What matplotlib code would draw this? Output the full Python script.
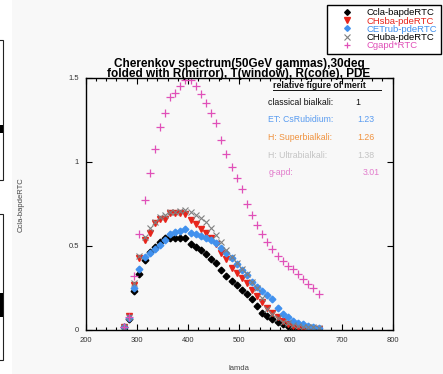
import numpy as np
import matplotlib
matplotlib.use('Agg')
import matplotlib.pyplot as plt
from matplotlib.patches import Rectangle
from matplotlib.ticker import MultipleLocator

plt.rcParams['font.family'] = ['Liberation Sans', 'DejaVu Sans']

W, H = 443, 374

# wavelength, nm
lamda = [275, 285, 295, 305, 315, 325, 335, 345, 355, 365, 375, 385, 395,
         405, 415, 425, 435, 445, 455, 465, 475, 485, 495, 505, 515, 525,
         535, 545, 555, 565, 575, 585, 595, 605, 615, 625, 635, 645, 655]

ccla = [0.02, 0.065, 0.234, 0.335, 0.418, 0.466, 0.496, 0.526, 0.545, 0.55,
        0.55, 0.55, 0.545, 0.512, 0.492, 0.474, 0.452, 0.425, 0.397, 0.358,
        0.319, 0.292, 0.266, 0.237, 0.213, 0.186, 0.142, 0.103, 0.081, 0.063,
        0.05, 0.036, 0.026, 0.017, 0.011, 0.008, 0.005, 0.003, 0.002]
chsba = [0.02, 0.083, 0.27, 0.427, 0.536, 0.58, 0.635, 0.66, 0.66, 0.695,
         0.695, 0.695, 0.69, 0.655, 0.63, 0.603, 0.578, 0.55, 0.51, 0.456,
         0.42, 0.367, 0.337, 0.307, 0.278, 0.238, 0.202, 0.169, 0.133, 0.103,
         0.079, 0.055, 0.036, 0.026, 0.016, 0.01, 0.008, 0.005, 0.003]
cetrub = [0.02, 0.07, 0.25, 0.363, 0.437, 0.456, 0.48, 0.505, 0.535, 0.57,
          0.585, 0.592, 0.60, 0.58, 0.572, 0.562, 0.548, 0.535, 0.518, 0.486,
          0.456, 0.427, 0.395, 0.358, 0.325, 0.288, 0.256, 0.231, 0.206, 0.182,
          0.132, 0.095, 0.075, 0.055, 0.044, 0.034, 0.026, 0.02, 0.014]
chuba = [0.02, 0.075, 0.278, 0.442, 0.556, 0.605, 0.64, 0.67, 0.685, 0.70,
         0.705, 0.71, 0.715, 0.705, 0.685, 0.665, 0.64, 0.605, 0.565, 0.526,
         0.476, 0.433, 0.40, 0.363, 0.333, 0.288, 0.248, 0.193, 0.126, 0.095,
         0.07, 0.05, 0.04, 0.03, 0.025, 0.02, 0.018, 0.015, 0.014]
cgapd = [0.02, 0.08, 0.32, 0.573, 0.775, 0.936, 1.076, 1.21, 1.29, 1.385,
         1.41, 1.454, 1.49, 1.49, 1.45, 1.405, 1.35, 1.29, 1.23, 1.13,
         1.05, 0.97, 0.905, 0.84, 0.752, 0.685, 0.625, 0.57, 0.526, 0.482,
         0.44, 0.413, 0.383, 0.361, 0.331, 0.302, 0.272, 0.248, 0.214]

names = ['Ccla-bapdeRTC', 'CHsba-pdeRTC', 'CETrub-pdeRTC', 'CHuba-pdeRTC', 'Cgapd*RTC']

merit_names = ['classical bialkali:', 'ET: CsRubidium:', 'H: Superbialkali:',
               'H: Ultrabialkali:', 'g-apd:']
merit_vals = ['1', '1.23', '1.26', '1.38', '3.01']

cols = {}
cols['black'] = '#000000'
cols['red'] = '#e8251c'
cols['blue'] = '#4191ee'
cols['gray'] = '#808080'
cols['pink'] = '#e050b8'
text_cols = ['#111111', '#5a9cf0', '#f0923e', '#c4c4c4', '#e27ccc']
legend_text_cols = ['#000000', '#e8251c', '#4191ee', '#000000', '#e050b8']


def fx(px):
    return px / W


def fy(py):
    return 1 - py / H


fig = plt.figure(figsize=(W / 100, H / 100), dpi=100, facecolor='#f8f8f8')

# leftover strip of another window on the left edge
fig.add_artist(Rectangle((0, 0), fx(12), 1, transform=fig.transFigure,
                         facecolor='white', edgecolor='none'))
for y0, y1, b0, b1 in [(40, 180, 125, 133), (214, 360, 293, 317)]:
    fig.add_artist(Rectangle((-0.01, fy(y1)), fx(3) + 0.01, fy(y0) - fy(y1),
                             transform=fig.transFigure, facecolor='white',
                             edgecolor='#222222', lw=0.8))
    fig.add_artist(Rectangle((0, fy(b1)), fx(2.5), fy(b0) - fy(b1),
                             transform=fig.transFigure, facecolor='black',
                             edgecolor='none'))

ax = fig.add_axes([fx(85.7), fy(330), fx(392.7) - fx(85.7), fy(78) - fy(330)])
ax.set_facecolor('none')

ax.plot(lamda, ccla, ls='none', marker='D', ms=3.4, color=cols['black'], label=names[0])
ax.plot(lamda, chsba, ls='none', marker='v', ms=4.8, color=cols['red'], label=names[1])
ax.plot(lamda, cetrub, ls='none', marker='D', ms=3.4, color=cols['blue'], label=names[2])
ax.plot(lamda, chuba, ls='none', marker='x', ms=4.5, mew=0.8, color=cols['gray'], label=names[3])
ax.plot(lamda, cgapd, ls='none', marker='+', ms=5.2, mew=0.9, color=cols['pink'], label=names[4])

ax.set_xlim(200, 800)
ax.set_ylim(0, 1.5)
ax.xaxis.set_major_locator(MultipleLocator(100))
ax.xaxis.set_minor_locator(MultipleLocator(20))
ax.set_yticks([0, 0.5, 1, 1.5])
ax.set_yticklabels(['0', '0.5', '1', '1.5'])
ax.tick_params(which='both', direction='in', top=True, right=True,
               labelsize=5.5, labelcolor='#333333', width=0.8)
ax.tick_params(which='major', length=4.5)
ax.tick_params(which='minor', length=2.5)
ax.tick_params(axis='x', pad=5)
ax.tick_params(axis='y', pad=5)
for s in ax.spines.values():
    s.set_linewidth(1.0)

# two-line bold title
fig.text(fx(239), fy(66.5), 'Cherenkov spectrum(50GeV gammas),30deg',
         fontsize=8.5, fontweight='bold', ha='center', va='baseline')
fig.text(fx(239), fy(77), 'folded with R(mirror), T(window), R(cone), PDE',
         fontsize=8.5, fontweight='bold', ha='center', va='baseline')

fig.text(fx(239), fy(369), 'lamda', fontsize=5.5, color='#444444',
         ha='center', va='center')
fig.text(fx(21.5), fy(205), 'Ccla-bapdeRTC', fontsize=5.5, color='#444444',
         rotation=90, ha='center', va='center')

# figure of merit box
fig.text(fx(273), fy(87.5), 'relative figure of merit', fontsize=6.3,
         fontweight='bold', color='#111111', ha='left', va='baseline')
fig.add_artist(plt.Line2D([fx(273), fx(381)], [fy(89.5), fy(89.5)],
                          transform=fig.transFigure, color='#111111', lw=0.7))
merit_y = [102.5, 119.5, 137, 155, 172.5]
merit_vx = [355, 357.5, 357.5, 357.5, 363]
for name, val, c, yy, vx in zip(merit_names, merit_vals, text_cols, merit_y, merit_vx):
    fig.text(fx(268.5), fy(yy), name, fontsize=6.3, color=c, ha='left', va='center')
    fig.text(fx(vx), fy(yy), val, fontsize=6.3, color=c, ha='left', va='center')

leg = fig.legend(handles=ax.lines, labels=names, loc='upper left',
                 bbox_to_anchor=(fx(326.7), fy(4.5)), fontsize=6.8,
                 frameon=True, fancybox=False, edgecolor='black',
                 framealpha=1, borderpad=0.4, labelspacing=-0.08,
                 handlelength=3.6, handletextpad=0.25, borderaxespad=0,
                 markerscale=0.85)
leg.get_frame().set_linewidth(1.0)
for t, c in zip(leg.get_texts(), legend_text_cols):
    t.set_color(c)

fig.savefig('out.png', dpi=100, facecolor=fig.get_facecolor())
